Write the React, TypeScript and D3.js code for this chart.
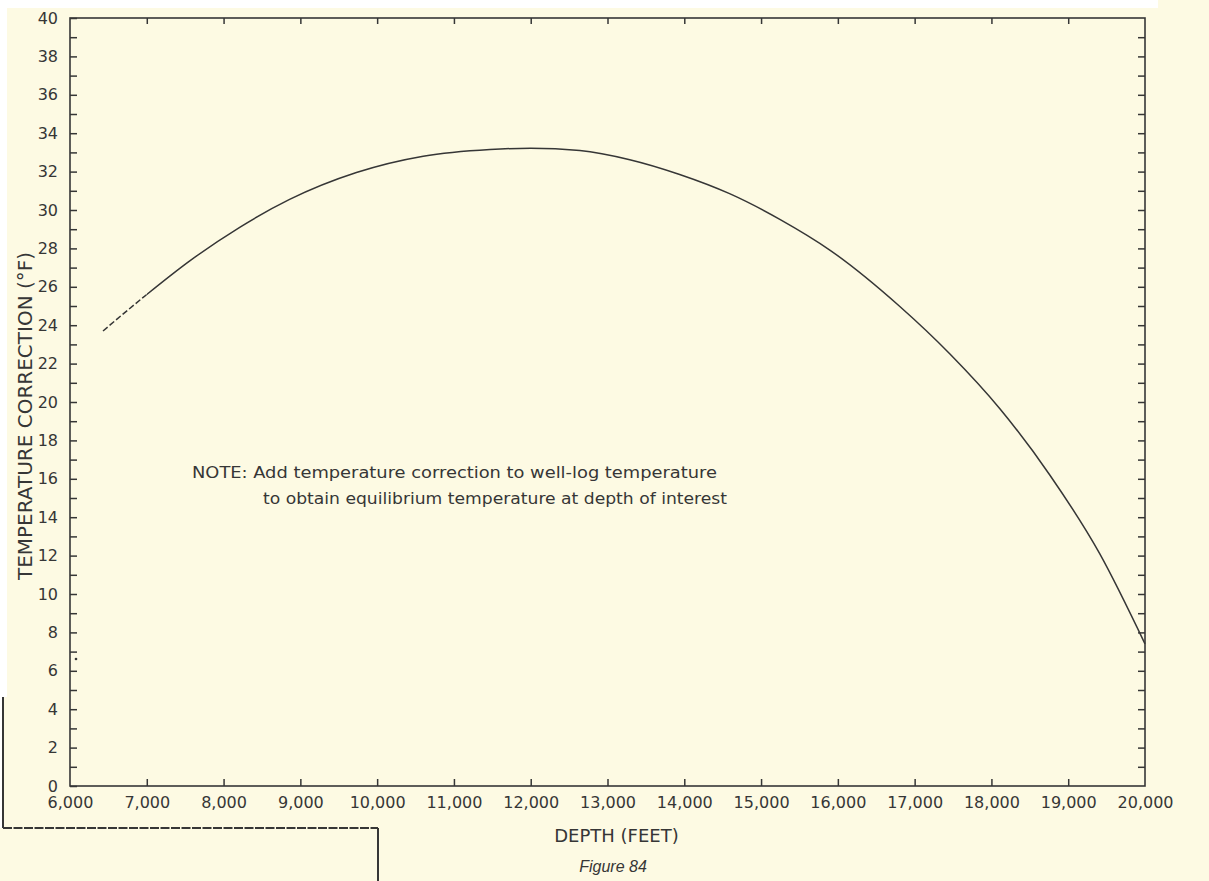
import React, { useEffect, useRef } from "react";
import * as d3 from "d3";

// ---- data ----
const depthFeet = [6430, 7000, 7560, 8210, 8860, 9730, 10600, 11470, 12000, 12640, 13290, 13940, 14590, 15250, 15900, 16800, 17460, 18110, 18760, 19410, 20000];
const tempCorrection = [23.7, 25.6, 27.35, 29.1, 30.55, 31.95, 32.8, 33.15, 33.22, 33.1, 32.62, 31.85, 30.85, 29.5, 27.9, 25.0, 22.5, 19.65, 16.2, 12.1, 7.4];
const dashedUntil = 7000;
const depthTicks = [6000, 7000, 8000, 9000, 10000, 11000, 12000, 13000, 14000, 15000, 16000, 17000, 18000, 19000, 20000];
const tempTicks = [0, 1, 2, 3, 4, 5, 6, 7, 8, 9, 10, 11, 12, 13, 14, 15, 16, 17, 18, 19, 20, 21, 22, 23, 24, 25, 26, 27, 28, 29, 30, 31, 32, 33, 34, 35, 36, 37, 38, 39, 40];
const tempLabelTicks = [0, 2, 4, 6, 8, 10, 12, 14, 16, 18, 20, 22, 24, 26, 28, 30, 32, 34, 36, 38, 40];
const xTitle = "DEPTH (FEET)";
const yTitle = "TEMPERATURE CORRECTION (°F)";
const noteLines = [
  "NOTE: Add temperature correction to well-log temperature",
  "to obtain equilibrium temperature at depth of interest",
];
const caption = "Figure 84";

const W = 1209;
const H = 881;
const L = 70, R = 1145, T = 18, B = 786;
const INK = "#363636";
const PAPER = "#fdfae3";
const FONT = "'DejaVu Sans', sans-serif";

export default function App() {
  const ref = useRef<SVGSVGElement>(null);

  useEffect(() => {
    document.body.style.margin = "0";
    const svg = d3.select(ref.current);
    svg.selectAll("*").remove();

    const x = d3.scaleLinear().domain([6000, 20000]).range([L, R]);
    const y = d3.scaleLinear().domain([0, 40]).range([B, T]);

    // paper
    svg.append("rect").attr("width", W).attr("height", H).attr("fill", PAPER);
    svg.append("rect").attr("x", 0).attr("y", 0).attr("width", 1158).attr("height", 8).attr("fill", "#ffffff");
    svg.append("rect").attr("x", 0).attr("y", 0).attr("width", 7).attr("height", 697).attr("fill", "#ffffff");
    svg.append("rect").attr("x", 0).attr("y", 697).attr("width", 3).attr("height", 131).attr("fill", "#ffffff");

    // bracket lines at lower left
    svg.append("path").attr("d", "M3,697V828").attr("stroke", INK).attr("stroke-width", 2).attr("fill", "none");
    svg.append("path").attr("d", "M3,828H378").attr("stroke", INK).attr("stroke-width", 2)
      .attr("stroke-dasharray", "9,1.5").attr("fill", "none");
    svg.append("path").attr("d", "M378,828V881").attr("stroke", INK).attr("stroke-width", 2).attr("fill", "none");

    // frame
    svg.append("rect").attr("x", L).attr("y", T).attr("width", R - L).attr("height", B - T)
      .attr("fill", "none").attr("stroke", INK).attr("stroke-width", 1.6);

    const styleAxis = (g: any) => {
      g.select(".domain").remove();
      g.selectAll(".tick line").attr("stroke", INK).attr("stroke-width", 1.5);
      g.selectAll(".tick text").attr("fill", INK).attr("font-family", FONT).attr("font-size", 16);
    };

    // left axis (ticks inward, labels on even values)
    svg.append("g").attr("transform", `translate(${L},0)`)
      .call(d3.axisLeft(y).tickValues(tempTicks).tickSizeInner(-7).tickSizeOuter(0).tickPadding(12)
        .tickFormat((d: any) => (tempLabelTicks.includes(+d) ? String(d) : "")))
      .call(styleAxis);

    // right axis ticks
    svg.append("g").attr("transform", `translate(${R},0)`)
      .call(d3.axisLeft(y).tickValues(tempTicks.slice(1, -1)).tickSizeInner(7).tickSizeOuter(0).tickFormat(() => ""))
      .call(styleAxis);

    // bottom axis
    svg.append("g").attr("transform", `translate(0,${B})`)
      .call(d3.axisBottom(x).tickValues(depthTicks).tickSizeInner(-7).tickSizeOuter(0).tickPadding(11)
        .tickFormat(d3.format(",") as any))
      .call(styleAxis)
      .call((g: any) => g.selectAll(".tick").filter((d: any) => d === 6000 || d === 20000).select("line").remove());

    // top axis ticks
    svg.append("g").attr("transform", `translate(0,${T})`)
      .call(d3.axisTop(x).tickValues(depthTicks.slice(1, -1)).tickSizeInner(-6).tickSizeOuter(0).tickFormat(() => ""))
      .call(styleAxis);

    // clip regions for dashed / solid parts of the curve
    const defs = svg.append("defs");
    defs.append("clipPath").attr("id", "clipDash").append("rect")
      .attr("x", 0).attr("y", 0).attr("width", x(dashedUntil)).attr("height", H);
    defs.append("clipPath").attr("id", "clipSolid").append("rect")
      .attr("x", x(dashedUntil)).attr("y", 0).attr("width", W - x(dashedUntil)).attr("height", H);

    // curve
    const pts: [number, number][] = depthFeet.map((d, i) => [d, tempCorrection[i]]);
    const line = d3.line<[number, number]>().x((d) => x(d[0])).y((d) => y(d[1])).curve(d3.curveMonotoneX);
    const dAttr = line(pts) as string;
    svg.append("path").attr("d", dAttr).attr("clip-path", "url(#clipDash)")
      .attr("fill", "none").attr("stroke", INK).attr("stroke-width", 1.5).attr("stroke-dasharray", "6,2.5");
    svg.append("path").attr("d", dAttr).attr("clip-path", "url(#clipSolid)")
      .attr("fill", "none").attr("stroke", INK).attr("stroke-width", 1.5);

    // stray dot near the left axis
    svg.append("circle").attr("cx", 76).attr("cy", 659).attr("r", 1.3).attr("fill", INK);

    // titles
    svg.append("text").attr("x", (L + R) / 2 + 9).attr("y", 842).attr("text-anchor", "middle")
      .attr("font-family", FONT).attr("font-size", 18).attr("fill", INK).text(xTitle);
    svg.append("text").attr("transform", "translate(32,416) rotate(-90)").attr("text-anchor", "middle")
      .attr("font-family", FONT).attr("font-size", 20).attr("fill", INK).text(yTitle);

    // note
    svg.append("text").attr("x", 192).attr("y", 478).attr("font-family", FONT).attr("font-size", 16)
      .attr("fill", INK).attr("textLength", 525).attr("lengthAdjust", "spacingAndGlyphs").text(noteLines[0]);
    svg.append("text").attr("x", 263).attr("y", 504).attr("font-family", FONT).attr("font-size", 16)
      .attr("fill", INK).attr("textLength", 464).attr("lengthAdjust", "spacingAndGlyphs").text(noteLines[1]);

    // caption
    svg.append("text").attr("x", 613).attr("y", 872).attr("text-anchor", "middle")
      .attr("font-family", "'Liberation Sans', Arial, sans-serif").attr("font-style", "italic")
      .attr("font-size", 16).attr("fill", INK).text(caption);
  }, []);

  return <svg ref={ref} width={W} height={H} style={{ display: "block", position: "absolute", left: 0, top: 0 }} />;
}
